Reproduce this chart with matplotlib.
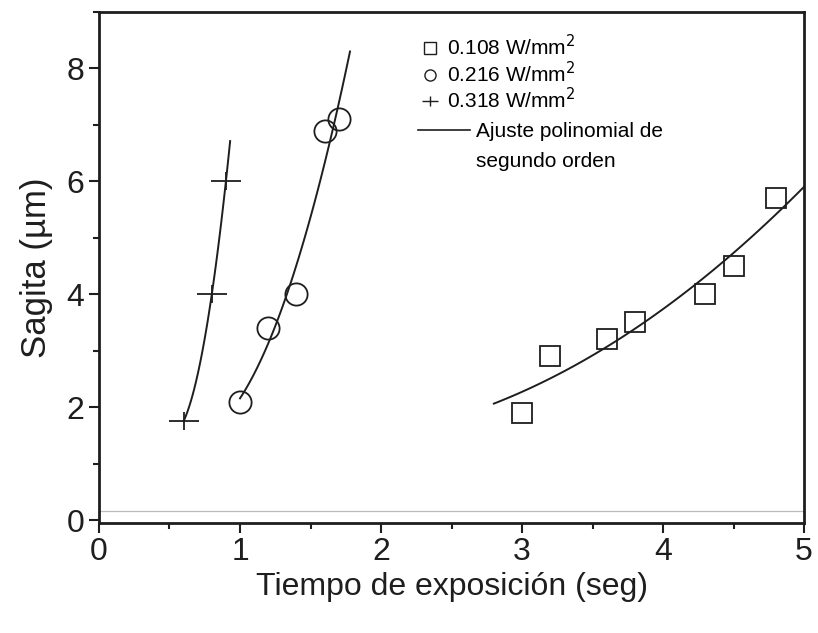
import matplotlib
matplotlib.use("Agg")
import matplotlib.pyplot as plt
import numpy as np
from matplotlib.path import Path
from matplotlib.ticker import MultipleLocator

plt.rcParams['font.family'] = ['Liberation Sans', 'DejaVu Sans']

# datos
t_108 = [3.0, 3.2, 3.6, 3.8, 4.3, 4.5, 4.8]
s_108 = [1.9, 2.9, 3.2, 3.5, 4.0, 4.5, 5.7]
t_216 = [1.0, 1.2, 1.4, 1.6, 1.7]
s_216 = [2.1, 3.4, 4.0, 6.9, 7.1]
t_318 = [0.6, 0.8, 0.9]
s_318 = [1.75, 4.0, 6.0]

# rango de cada ajuste
fit_108 = (2.8, 5.0)
fit_216 = (1.0, 1.78)
fit_318 = (0.6, 0.93)

ink = '#1e1e1e'
# cruz mas ancha que alta, como en el original
cruz = Path([(-1, 0), (1, 0), (0, -0.6), (0, 0.6)],
            [Path.MOVETO, Path.LINETO, Path.MOVETO, Path.LINETO])

fig = plt.figure(figsize=(8.18, 6.33), dpi=100)
ax = fig.add_axes([0.121, 0.174, 0.862, 0.807])

def ajuste(t, s, rng):
    c = np.polyfit(t, s, 2)
    xx = np.linspace(rng[0], rng[1], 100)
    ax.plot(xx, np.polyval(c, xx), color=ink, lw=1.4)

ajuste(t_108, s_108, fit_108)
ajuste(t_216, s_216, fit_216)
ajuste(t_318, s_318, fit_318)

ax.plot(t_108, s_108, 's', ms=15, mfc='none', mec=ink, mew=1.3, ls='none')
ax.plot(t_216, s_216, 'o', ms=16, mfc='none', mec=ink, mew=1.3, ls='none')
ax.plot(t_318, s_318, marker=cruz, ms=21, mec=ink, mew=1.3, ls='none')

ax.axhline(0.16, color='#bbbbbb', lw=0.9)

# leyenda (dos bloques: marcadores y linea de ajuste)
h1, = ax.plot([], [], 's', ms=8, mfc='none', mec=ink, mew=1.0)
h2, = ax.plot([], [], 'o', ms=8, mfc='none', mec=ink, mew=1.0)
h3, = ax.plot([], [], marker=cruz, ms=11, mec=ink, mew=1.0, ls='none')
h4, = ax.plot([], [], color=ink, lw=1.2)
h5, = ax.plot([], [], color='none')
leg1 = ax.legend([h1, h2, h3],
                 ['0.108 W/mm$^2$', '0.216 W/mm$^2$', '0.318 W/mm$^2$'],
                 loc='upper left', bbox_to_anchor=(0.455, 0.957), frameon=False,
                 fontsize=15, handlelength=1.0, handletextpad=0.32,
                 labelspacing=0.07, borderaxespad=0, borderpad=0)
ax.add_artist(leg1)
ax.legend([h4, h5], ['Ajuste polinomial de', 'segundo orden'],
          loc='upper left', bbox_to_anchor=(0.4525, 0.785), frameon=False,
          fontsize=15, handlelength=2.5, handletextpad=0.29,
          labelspacing=0.54, borderaxespad=0, borderpad=0)

ax.set_xlim(0, 5)
ax.set_ylim(-0.05, 9)
ax.xaxis.set_major_locator(MultipleLocator(1))
ax.xaxis.set_minor_locator(MultipleLocator(0.5))
ax.yaxis.set_major_locator(MultipleLocator(2))
ax.yaxis.set_minor_locator(MultipleLocator(1))
ax.tick_params(which='both', direction='out', color=ink, width=1.5,
               labelsize=23, labelcolor=ink)
ax.tick_params(which='major', length=7)
ax.tick_params(which='minor', length=4)
for sp in ax.spines.values():
    sp.set_linewidth(2)
    sp.set_color(ink)

ax.set_xlabel('Tiempo de exposición (seg)', fontsize=23, color=ink, labelpad=3)
ax.set_ylabel('Sagita (µm)', fontsize=25, color=ink, labelpad=10)

fig.savefig('out.png', dpi=100)
